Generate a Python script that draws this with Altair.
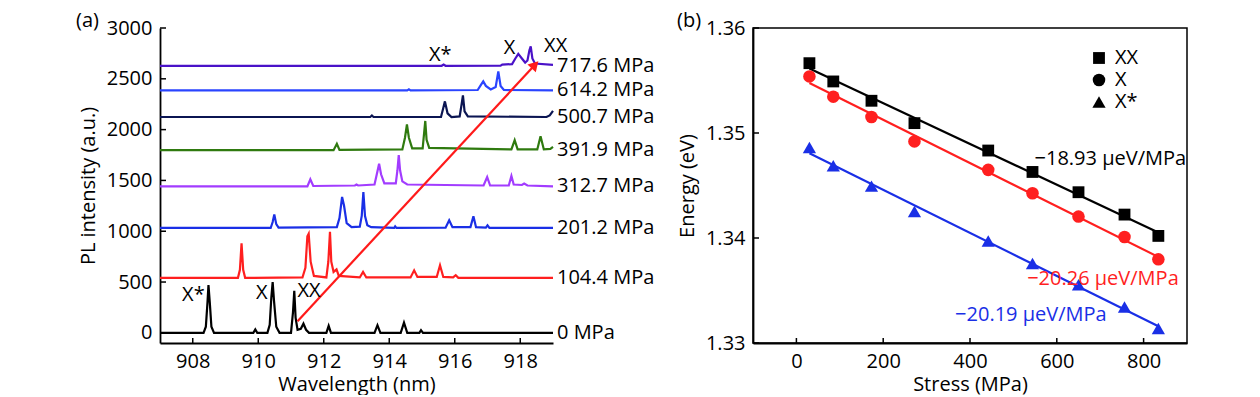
import altair as alt
import pandas as pd

FONT = "Open Sans"
FS = 20

# ---------------- Panel (a): PL spectra ----------------
spec_labels = ["0 MPa", "104.4 MPa", "201.2 MPa", "312.7 MPa",
               "391.9 MPa", "500.7 MPa", "614.2 MPa", "717.6 MPa"]
spec_colors = ["#000000", "#ff1f1f", "#1a2fe6", "#a23cff",
               "#2f7a0f", "#0b1552", "#2a44ff", "#4a12c8"]
spec_baselines = [0, 541, 1032, 1442, 1798, 2124, 2386, 2628]

s0_wl = [907.0, 908.33, 908.40, 908.45, 908.48, 908.52, 908.57, 908.65, 909.85, 909.91, 909.97,
         910.28, 910.35, 910.40, 910.44, 910.48, 910.55, 910.65, 911.00, 911.06, 911.10, 911.14,
         911.20, 911.30, 911.38, 911.46, 911.55, 912.08, 912.15, 912.22, 913.55, 913.64, 913.73,
         914.35, 914.45, 914.55, 914.92, 914.97, 915.03, 919.0]
s0_int = [0, 0, 60, 300, 470, 300, 60, 0, 0, 33, 0,
          0, 80, 350, 500, 320, 60, 0, 0, 200, 413, 150,
          30, 40, 90, 30, 0, 0, 69, 0, 0, 75, 0,
          0, 100, 0, 0, 26, 0, 0]

s1_wl = [907.0, 909.38, 909.44, 909.49, 909.54, 909.60, 911.35, 911.44, 911.50, 911.54, 911.60,
         911.70, 912.08, 912.14, 912.19, 912.23, 912.30, 912.39, 912.46, 913.10, 913.20, 913.30,
         914.65, 914.76, 914.86, 915.45, 915.55, 915.65, 915.95, 916.03, 916.11, 919.0]
s1_int = [541, 541, 620, 880, 620, 541, 545, 640, 950, 975, 700,
          560, 545, 700, 995, 700, 600, 625, 560, 545, 600, 545,
          545, 615, 550, 550, 665, 550, 545, 567, 541, 541]

s2_wl = [907.0, 910.38, 910.44, 910.49, 910.55, 910.62, 912.40, 912.48, 912.56, 912.62, 912.70,
         912.85, 913.10, 913.16, 913.21, 913.26, 913.33, 913.45, 914.15, 914.18, 914.22, 915.72,
         915.83, 915.93, 916.48, 916.57, 916.65, 916.95, 917.00, 917.06, 919.0]
s2_int = [1032, 1032, 1090, 1166, 1070, 1035, 1040, 1130, 1337, 1250, 1080,
          1040, 1045, 1150, 1386, 1150, 1060, 1040, 1032, 1047, 1032, 1035,
          1107, 1040, 1040, 1147, 1040, 1035, 1058, 1032, 1032]

s3_wl = [907.0, 911.50, 911.59, 911.68, 912.95, 913.00, 913.05, 913.55, 913.62, 913.69, 913.75,
         913.85, 914.20, 914.25, 914.29, 914.33, 914.40, 914.55, 916.88, 916.99, 917.08, 917.65,
         917.73, 917.80, 918.05, 918.12, 918.22, 919.0]
s3_int = [1442, 1442, 1511, 1445, 1450, 1460, 1450, 1460, 1560, 1665, 1560,
          1470, 1470, 1600, 1750, 1600, 1490, 1460, 1450, 1534, 1450, 1450,
          1544, 1460, 1455, 1470, 1450, 1442]

s4_wl = [907.0, 912.30, 912.40, 912.48, 914.40, 914.48, 914.54, 914.60, 914.70, 915.02, 915.06,
         915.10, 915.14, 915.22, 917.73, 917.83, 917.92, 918.52, 918.62, 918.72, 918.92, 919.0]
s4_int = [1798, 1798, 1860, 1800, 1805, 1920, 2050, 1920, 1815, 1815, 1950,
          2085, 1900, 1820, 1805, 1895, 1805, 1805, 1935, 1805, 1810, 1830]

s5_wl = [907.0, 913.42, 913.47, 913.52, 915.58, 915.64, 915.70, 915.78, 915.90, 916.15, 916.21,
         916.25, 916.30, 916.40, 918.80, 918.90, 919.0]
s5_int = [2124, 2124, 2139, 2124, 2124, 2200, 2278, 2160, 2124, 2130, 2250,
          2337, 2180, 2130, 2124, 2140, 2185]

s6_wl = [907.0, 914.55, 914.60, 914.65, 916.70, 916.80, 916.87, 916.95, 917.10, 917.25, 917.33,
         917.40, 917.50, 919.0]
s6_int = [2386, 2386, 2396, 2386, 2390, 2440, 2475, 2430, 2395, 2420, 2573,
          2430, 2390, 2386]

s7_wl = [907.0, 915.60, 915.66, 915.72, 917.40, 917.45, 917.75, 917.85, 917.94, 918.05, 918.15,
         918.22, 918.28, 918.32, 918.37, 918.45, 919.0]
s7_int = [2628, 2628, 2640, 2628, 2630, 2640, 2645, 2700, 2746, 2700, 2660,
          2680, 2780, 2819, 2700, 2650, 2638]

spec_wls = [s0_wl, s1_wl, s2_wl, s3_wl, s4_wl, s5_wl, s6_wl, s7_wl]
spec_ints = [s0_int, s1_int, s2_int, s3_int, s4_int, s5_int, s6_int, s7_int]

peak_text = ["X*", "X", "XX", "X*", "X", "XX"]
peak_wl = [908.02, 910.11, 911.55, 915.56, 917.67, 919.08]
peak_int = [370, 390, 413, 2736, 2805, 2820]

arrow_wl = [911.2, 918.45]
arrow_int = [115, 2638]

a_xticks = [908, 910, 912, 914, 916, 918]
a_yticks = [0, 500, 1000, 1500, 2000, 2500, 3000]

# ---------------- Panel (b): energy vs stress ----------------
series_names = ["XX", "X", "X*"]
series_colors = ["#000000", "#ff2222", "#0a2de6"]
series_shapes = ["square", "circle", "triangle-up"]
series_sizes = [140, 175, 165]
stress = [30, 85, 173, 272, 442, 544, 650, 756, 834]
energy_XX = [1.35665, 1.35491, 1.35307, 1.35094, 1.34833, 1.34629, 1.34436, 1.34223, 1.34020]
energy_X = [1.35539, 1.35346, 1.35152, 1.34920, 1.34649, 1.34426, 1.34204, 1.34010, 1.33797]
energy_Xs = [1.34862, 1.34688, 1.34494, 1.34252, 1.33971, 1.33758, 1.33555, 1.33342, 1.33139]

ann_text = ["\u221218.93 \u00b5eV/MPa", "\u221220.26 \u00b5eV/MPa", "\u221220.19 \u00b5eV/MPa"]
ann_stress = [898, 881, 715]
ann_energy = [1.34748, 1.33610, 1.33264]

b_xticks = [0, 200, 400, 600, 800]
b_yticks = [1.33, 1.34, 1.35, 1.36]

# ---------------- build tables ----------------
rows = []
for lab, wls, ints in zip(spec_labels, spec_wls, spec_ints):
    for i, (w, v) in enumerate(zip(wls, ints)):
        rows.append({"label": lab, "wl": w, "I": v, "i": i})
spec_df = pd.DataFrame(rows)
lab_df = pd.DataFrame({"label": spec_labels, "base": spec_baselines, "wl": [919.0] * 8})
peak_df = pd.DataFrame({"t": peak_text, "wl": peak_wl, "I": peak_int})
arrow_df = pd.DataFrame({"wl": arrow_wl, "I": arrow_int, "i": [0, 1]})
tip_df = arrow_df.iloc[[1]]

W_A, H_A = 393, 315
W_B, H_B = 434, 315

xs_a = alt.Scale(domain=[907, 919], nice=False, zero=False)
ys_a = alt.Scale(domain=[-100, 3000], nice=False, zero=False)

lines_a = alt.Chart(spec_df).mark_line(strokeWidth=2.2, interpolate="linear").encode(
    x=alt.X("wl:Q", scale=xs_a,
            axis=alt.Axis(values=a_xticks, title="Wavelength (nm)", format="d", titlePadding=3)),
    y=alt.Y("I:Q", scale=ys_a,
            axis=alt.Axis(values=a_yticks, title="PL intensity (a.u.)", format="d")),
    color=alt.Color("label:N", scale=alt.Scale(domain=spec_labels, range=spec_colors), legend=None),
    order="i:Q",
)
labels_a = alt.Chart(lab_df).mark_text(align="left", baseline="middle", dx=4,
                                       fontSize=FS, font=FONT, color="black").encode(
    x=alt.X("wl:Q", scale=xs_a), y=alt.Y("base:Q", scale=ys_a), text="label:N")
peaks_a = alt.Chart(peak_df).mark_text(align="center", baseline="middle",
                                       fontSize=FS, font=FONT, color="black").encode(
    x=alt.X("wl:Q", scale=xs_a), y=alt.Y("I:Q", scale=ys_a), text="t:N")
arrow_line = alt.Chart(arrow_df).mark_line(color="#ff1a1a", strokeWidth=2.2).encode(
    x=alt.X("wl:Q", scale=xs_a), y=alt.Y("I:Q", scale=ys_a), order="i:Q")
arrow_head = alt.Chart(tip_df).mark_point(shape="triangle-up", angle=43, filled=True,
                                          color="#ff1a1a", size=130, opacity=1).encode(
    x=alt.X("wl:Q", scale=xs_a), y=alt.Y("I:Q", scale=ys_a))
xt_a = alt.Chart(pd.DataFrame({"v": a_xticks})).mark_rule(color="black", strokeWidth=1.5).encode(
    x=alt.X("v:Q", scale=xs_a), y=alt.value(H_A), y2=alt.value(H_A - 5))
yt_a = alt.Chart(pd.DataFrame({"v": a_yticks})).mark_rule(color="black", strokeWidth=1.5).encode(
    y=alt.Y("v:Q", scale=ys_a), x=alt.value(0), x2=alt.value(6))
tag_a = alt.Chart(pd.DataFrame({"t": ["(a)"]})).mark_text(
    align="left", baseline="top", fontSize=FS, font=FONT, color="black").encode(
    text="t:N", x=alt.value(-84), y=alt.value(-17))

panel_a = alt.layer(lines_a, arrow_line, arrow_head, labels_a, peaks_a, xt_a, yt_a, tag_a).properties(
    width=W_A, height=H_A, view=alt.ViewBackground(stroke=None))

# panel b
prow = []
for name, ys in zip(series_names, [energy_XX, energy_X, energy_Xs]):
    for s, e in zip(stress, ys):
        prow.append({"series": name, "stress": s, "E": e})
pts_df = pd.DataFrame(prow)
ann_df = pd.DataFrame({"t": ann_text, "s": ann_stress, "E": ann_energy, "series": series_names})

xs_b = alt.Scale(domain=[-100, 900], nice=False, zero=False)
ys_b = alt.Scale(domain=[1.33, 1.36], nice=False, zero=False)
col_b = alt.Scale(domain=series_names, range=series_colors)

# legend is positioned relative to the origin of the whole concatenated chart (panel a's plot)
leg = alt.Legend(title=None, orient="none", legendX=929, legendY=20,
                 labelFontSize=FS, labelFont=FONT, labelColor="black",
                 symbolStrokeWidth=0, rowPadding=2, labelOffset=6, padding=0,
                 symbolOpacity=1)

pts = alt.Chart(pts_df).mark_point(filled=True, opacity=1).encode(
    x=alt.X("stress:Q", scale=xs_b,
            axis=alt.Axis(values=b_xticks, title="Stress (MPa)", format="d", titlePadding=3)),
    y=alt.Y("E:Q", scale=ys_b, axis=alt.Axis(values=b_yticks, title="Energy (eV)", format=".2f")),
    color=alt.Color("series:N", scale=col_b, legend=leg),
    shape=alt.Shape("series:N", scale=alt.Scale(domain=series_names, range=series_shapes), legend=leg),
    size=alt.Size("series:N", scale=alt.Scale(domain=series_names, range=series_sizes), legend=leg),
)
fit = alt.Chart(pts_df).transform_regression("stress", "E", groupby=["series"]).mark_line(
    strokeWidth=2.2).encode(
    x=alt.X("stress:Q", scale=xs_b), y=alt.Y("E:Q", scale=ys_b),
    color=alt.Color("series:N", scale=col_b, legend=None))
ann = alt.Chart(ann_df).mark_text(align="right", baseline="middle", fontSize=FS, font=FONT).encode(
    x=alt.X("s:Q", scale=xs_b), y=alt.Y("E:Q", scale=ys_b), text="t:N",
    color=alt.Color("series:N", scale=col_b, legend=None))
xt_b = alt.Chart(pd.DataFrame({"v": b_xticks})).mark_rule(color="black", strokeWidth=1.5).encode(
    x=alt.X("v:Q", scale=xs_b), y=alt.value(H_B), y2=alt.value(H_B - 5))
yt_b = alt.Chart(pd.DataFrame({"v": b_yticks})).mark_rule(color="black", strokeWidth=1.5).encode(
    y=alt.Y("v:Q", scale=ys_b), x=alt.value(0), x2=alt.value(6))
tag_b = alt.Chart(pd.DataFrame({"t": ["(b)"]})).mark_text(
    align="left", baseline="top", fontSize=FS, font=FONT, color="black").encode(
    text="t:N", x=alt.value(-76), y=alt.value(-17))

panel_b = alt.layer(fit, pts, ann, xt_b, yt_b, tag_b).properties(
    width=W_B, height=H_B, view=alt.ViewBackground(stroke="black", strokeWidth=1.5))

chart = alt.hconcat(panel_a, panel_b, spacing=21).properties(
    padding={"left": 68, "top": 2, "right": 5, "bottom": 0}
).configure(font=FONT).configure_axis(
    ticks=False, grid=False, domainColor="black", domainWidth=1.8,
    labelFontSize=FS, titleFontSize=FS, titleFontWeight="normal",
    labelColor="black", titleColor="black", labelPadding=8, titlePadding=8,
)

chart.save("out.html", embed_options={"renderer": "svg", "actions": False})
